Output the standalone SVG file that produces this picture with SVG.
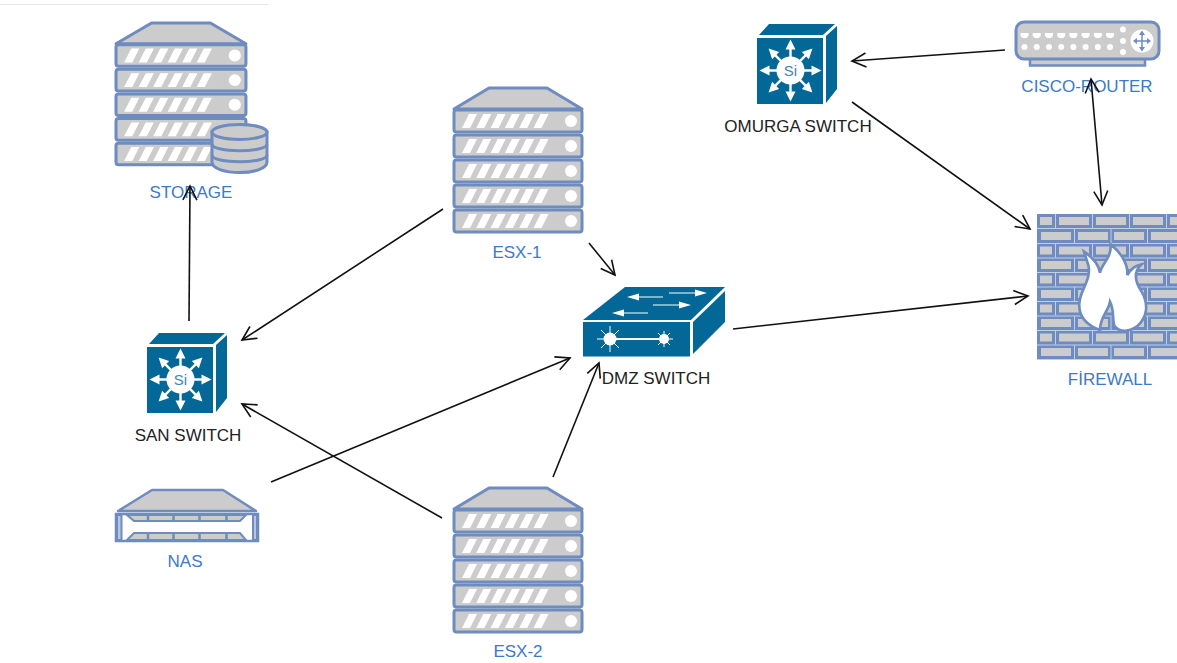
<svg xmlns="http://www.w3.org/2000/svg" width="1177" height="663" viewBox="0 0 1177 663">
<style>
.lb{font-family:"Liberation Sans",Arial,sans-serif;font-size:17px;fill:#3a7aca;text-anchor:middle}
.dk{fill:#222}
.gs{fill:#ccc;stroke:#6e8cbf;stroke-width:3;stroke-linejoin:round}
.wh{fill:#fff}
.sw{fill:#036897}
.c{fill:none;stroke:#111;stroke-width:1.6;marker-end:url(#a)}
.m{fill:#6e8cbf}
.brick{fill:#ccc;stroke:#6e8cbf;stroke-width:2}
.mortar{fill:none;stroke:#c2cee3;stroke-width:1}
</style>
<defs>
<marker id="a" markerUnits="userSpaceOnUse" markerWidth="24" markerHeight="24" refX="15" refY="12" orient="auto-start-reverse" viewBox="0 0 24 24" overflow="visible">
<path d="M1 5 L15 12 L1 19" fill="none" stroke="#111" stroke-width="1.6"/>
</marker>
<g id="row">
<rect class="gs" x="1" y="0" width="128" height="22" rx="2.500"/>
<path class="wh" d="M9 18 L17 18 L24 4 L16 4Z M23.300 18 L31.300 18 L38.300 4 L30.300 4Z M37.600 18 L45.600 18 L52.600 4 L44.600 4Z M51.900 18 L59.900 18 L66.900 4 L58.900 4Z M66.200 18 L74.200 18 L81.200 4 L73.200 4Z M80.500 18 L88.500 18 L95.500 4 L87.500 4Z"/>
<circle class="wh" cx="118" cy="11" r="6"/>
</g>
<g id="server">
<path class="gs" d="M36 1 L94 1 L129 22 L1 22Z"/>
<use href="#row" y="23"/><use href="#row" y="48"/><use href="#row" y="73"/><use href="#row" y="98"/><use href="#row" y="123"/>
</g>
<path id="ar" class="wh" d="M-1.200 -13 L-1.200 -21 L-5 -21 L0 -31 L5 -21 L1.200 -21 L1.200 -13Z"/>
<g id="si">
<path class="sw" d="M2 11 L12 0 L78 0 L66 11Z"/>
<rect class="sw" x="0" y="14" width="66" height="66"/>
<path class="sw" d="M69 12 L80 2 L80 65 L69 79Z"/>
<g transform="translate(33.500 46.500)">
<use href="#ar"/><use href="#ar" transform="rotate(45)"/><use href="#ar" transform="rotate(90)"/><use href="#ar" transform="rotate(135)"/><use href="#ar" transform="rotate(180)"/><use href="#ar" transform="rotate(225)"/><use href="#ar" transform="rotate(270)"/><use href="#ar" transform="rotate(315)"/>
<circle class="wh" r="14"/>
<text y="5.500" text-anchor="middle" style="font-family:'Liberation Sans',Arial,sans-serif;font-size:15px;fill:#3f86b4">Si</text>
</g>
</g>
<g id="br1">
<rect class="brick" x="1039" y="0" width="14" height="10"/><rect class="brick" x="1058" y="0" width="32" height="10"/><rect class="brick" x="1095" y="0" width="32" height="10"/><rect class="brick" x="1132" y="0" width="32" height="10"/><rect class="brick" x="1169" y="0" width="32" height="10"/>
<path class="mortar" d="M1055.500 -2 V12 M1092.500 -2 V12 M1129.500 -2 V12 M1166.500 -2 V12 M1037 12.500 H1177"/>
</g>
<g id="br2">
<rect class="brick" x="1040" y="0" width="32" height="10"/><rect class="brick" x="1077" y="0" width="32" height="10"/><rect class="brick" x="1113" y="0" width="32" height="10"/><rect class="brick" x="1150" y="0" width="32" height="10"/>
<path class="mortar" d="M1074.500 -2 V12 M1111 -2 V12 M1147.500 -2 V12 M1037 12.500 H1177"/>
</g>
</defs>
<rect width="1177" height="663" fill="#fff"/>
<path d="M0 4.500 H268" stroke="#e8e8e8" stroke-width="1"/>

<g id="storage">
<use href="#server" transform="translate(115 22) scale(1.015 .985)"/>
<path d="M212 132 V162 C212 176 267 176 267 162 V132Z" fill="#ccc" stroke="#6e8cbf" stroke-width="3"/>
<ellipse cx="239.500" cy="132" rx="27.500" ry="7.500" fill="#ccc" stroke="#6e8cbf" stroke-width="3"/>
<path d="M212 144 C212 153 267 153 267 144 M212 155 C212 164 267 164 267 155" fill="none" stroke="#6e8cbf" stroke-width="3"/>
<text class="lb" x="191" y="198">STORAGE</text>
</g>
<g id="esx1"><use href="#server" transform="translate(453 87)"/><text class="lb" x="517" y="258">ESX-1</text></g>
<g id="esx2"><use href="#server" transform="translate(453 487)"/><text class="lb" x="518" y="657">ESX-2</text></g>

<g id="san-switch"><use href="#si" transform="translate(147 333)"/><text class="lb dk" x="188" y="441">SAN SWITCH</text></g>
<g id="omurga-switch"><use href="#si" transform="translate(757 24)"/><text class="lb dk" x="798" y="132">OMURGA SWITCH</text></g>

<g id="nas">
<path class="gs" d="M152 490 H223 L256 511 H118Z" style="stroke-width:2.500"/>
<rect x="116" y="514" width="142" height="27" fill="#fff" stroke="#6e8cbf" stroke-width="2.500"/>
<path d="M117 515 H121.500 V540 H117Z M253 515 H257 V540 H253Z" fill="#b9c6dd" stroke="#6e8cbf" stroke-width="2"/>
<path d="M127 515 H246 L240 521 H134Z M134 533 H240 L246 540 H127Z" fill="#ccc" stroke="#6e8cbf" stroke-width="2"/>
<path d="M148 514 V521 M173.500 514 V521 M199.500 514 V521 M226.500 514 V521 M148 533 V540 M173.500 533 V540 M199.500 533 V540 M226.500 533 V540" stroke="#6e8cbf" stroke-width="2.500"/>
<text class="lb" x="185" y="567">NAS</text>
</g>

<g id="dmz-switch">
<path class="sw" d="M583 320 L625 287 H725 L691 320Z"/>
<rect class="sw" x="583" y="322" width="107" height="34.500"/>
<path class="sw" d="M693 322 L725 291 V322 L693 354Z"/>
<g stroke="#fff" stroke-width="1" fill="#fff">
<path d="M669 293 H695 M653 305 H680 M622 313 H648 M638 297 H663" fill="none"/>
<path d="M707 293 L695 289.500 V296.500Z M691 305 L679 301.500 V308.500Z M612 313 L624 309.500 V316.500Z M627 297 L639 293.500 V300.500Z" stroke="none"/>
<path d="M610 339 H664" stroke-width="2.200" fill="none"/>
<path d="M610 326 V352 M597 339 H623 M601 330 L619 348 M619 330 L601 348 M664 331 V347 M655 339 H673 M658 333 L670 345 M670 333 L658 345" fill="none"/>
<circle cx="610" cy="339" r="6.500" stroke="none"/><circle cx="664" cy="339" r="5" stroke="none"/>
</g>
<text class="lb dk" x="656" y="384">DMZ SWITCH</text>
</g>

<g id="firewall">
<rect x="1037" y="214" width="140" height="146" class="m"/>
<use href="#br1" y="216"/><use href="#br2" y="231"/><use href="#br1" y="245.500"/><use href="#br2" y="260"/><use href="#br1" y="274.500"/><use href="#br2" y="289"/><use href="#br1" y="303.500"/><use href="#br2" y="318"/><use href="#br1" y="332.500"/><use href="#br2" y="347"/>
<path transform="translate(1020 200) scale(.3333)" d="M240 390 C200 375 175 350 178 310 C180 270 215 240 205 195 L192 155 C215 170 235 190 240 218 C245 190 275 175 272 133 C300 155 325 190 322 225 C335 205 345 197 365 193 C340 215 345 245 365 275 C385 310 385 350 350 380 C330 395 300 398 285 380 C275 365 285 335 270 305 C265 335 240 350 240 390Z" fill="#fff" stroke="#6e8cbf" stroke-width="8"/>
<text class="lb" x="1110" y="385">FİREWALL</text>
</g>

<g id="cisco-router">
<rect x="1030" y="58" width="115" height="7.500" fill="#ccc" stroke="#6e8cbf" stroke-width="2.500"/>
<rect class="gs" x="1016" y="22" width="143" height="37" rx="8"/>
<g class="wh">
<circle cx="1024.500" cy="47" r="3"/><circle cx="1036.700" cy="47" r="3"/><circle cx="1049" cy="47" r="3"/><circle cx="1061.200" cy="47" r="3"/><circle cx="1073.400" cy="47" r="3"/><circle cx="1085.600" cy="47" r="3"/><circle cx="1097.900" cy="47" r="3"/><circle cx="1110" cy="47" r="3"/>
<circle cx="1123" cy="29.500" r="3"/><circle cx="1123" cy="41" r="3"/><circle cx="1123" cy="52" r="3"/>
<path d="M1020.500 33 h8 v3 l-2 2 h-4 l-2 -2Z M1032.700 33 h8 v3 l-2 2 h-4 l-2 -2Z M1045 33 h8 v3 l-2 2 h-4 l-2 -2Z M1057.200 33 h8 v3 l-2 2 h-4 l-2 -2Z M1069.400 33 h8 v3 l-2 2 h-4 l-2 -2Z M1081.600 33 h8 v3 l-2 2 h-4 l-2 -2Z M1093.900 33 h8 v3 l-2 2 h-4 l-2 -2Z M1106 33 h8 v3 l-2 2 h-4 l-2 -2Z"/>
<circle cx="1142" cy="41" r="11.500"/>
</g>
<path d="M1142 33 V49 M1134 41 H1150" stroke="#6e8cbf" stroke-width="1.500"/>
<path class="m" d="M1142 30.500 L1145 35 H1139Z M1142 51.500 L1145 47 H1139Z M1133 41 L1137 38 V44Z M1151 41 L1147 38 V44Z"/>
<text class="lb" x="1087" y="92">CISCO-ROUTER</text>
</g>

<g id="connectors">
<path class="c" d="M189 321 L190 186"/>
<path class="c" d="M443 209 L242 340"/>
<path class="c" d="M589 243 L615 275"/>
<path class="c" d="M442 518 L242 404"/>
<path class="c" d="M271 482 L570 358"/>
<path class="c" d="M553 477 L599 363"/>
<path class="c" d="M733 329 L1028 296"/>
<path class="c" d="M1005 50 L852 61"/>
<path class="c" d="M852 102 L1030 229"/>
<path class="c" d="M1091 79 L1102 205" marker-start="url(#a)"/>
</g>
</svg>
